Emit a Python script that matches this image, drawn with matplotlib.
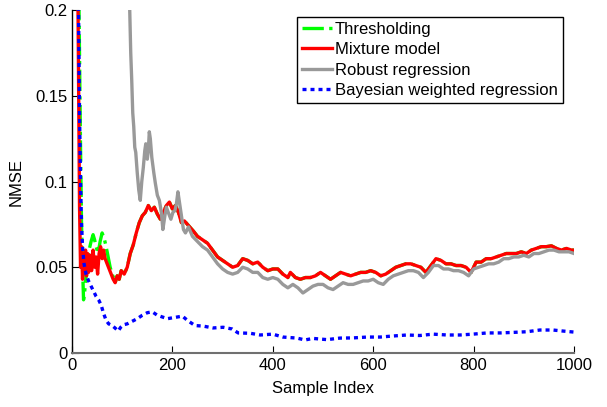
import matplotlib
matplotlib.use("Agg")
import matplotlib.pyplot as plt
from matplotlib.ticker import FixedLocator, FixedFormatter

plt.rcParams['font.family'] = ['Liberation Sans', 'DejaVu Sans']

# ---- data ----
red_x = [10, 12, 14, 15, 17, 19, 21, 23, 25, 27, 29, 31, 33, 36, 39, 42, 45, 48, 51, 54, 57, 60, 63, 66,
         70, 74, 78, 82, 86, 90, 94, 98, 104, 110, 116, 122, 128, 134, 140, 146, 152, 158, 164, 170,
         176, 182, 188, 194, 200, 206, 212, 218, 224, 230, 236, 242, 250, 260, 270, 280, 290, 300,
         310, 320, 330, 340, 350, 360, 370, 380, 390, 400, 410, 420, 430, 435, 445, 455, 465, 475,
         485, 495, 505, 515, 525, 535, 545, 555, 565, 575, 585, 595, 605, 615, 625, 635, 645, 655,
         665, 675, 685, 695, 705, 715, 725, 735, 745, 755, 765, 775, 785, 795, 805, 815, 825, 835,
         845, 855, 865, 875, 885, 895, 905, 915, 925, 935, 945, 955, 965, 975, 985, 995, 1000]
red_y = [0.25, 0.20, 0.12, 0.085, 0.050, 0.062, 0.043, 0.058, 0.047, 0.060, 0.045, 0.058, 0.047, 0.057,
         0.048, 0.060, 0.050, 0.056, 0.046, 0.058, 0.062, 0.055, 0.060, 0.055, 0.052, 0.049, 0.046,
         0.043, 0.041, 0.045, 0.043, 0.048, 0.046, 0.050, 0.058, 0.063, 0.070, 0.076, 0.080, 0.082,
         0.086, 0.083, 0.085, 0.081, 0.078, 0.082, 0.086, 0.088, 0.084, 0.086, 0.082, 0.076, 0.077,
         0.075, 0.073, 0.071, 0.068, 0.066, 0.064, 0.060, 0.056, 0.054, 0.052, 0.050, 0.051, 0.055,
         0.054, 0.052, 0.053, 0.050, 0.048, 0.049, 0.049, 0.046, 0.044, 0.047, 0.044, 0.043, 0.044,
         0.044, 0.045, 0.047, 0.045, 0.043, 0.045, 0.047, 0.046, 0.045, 0.046, 0.047, 0.047, 0.048,
         0.047, 0.045, 0.046, 0.048, 0.050, 0.051, 0.052, 0.052, 0.051, 0.050, 0.047, 0.051, 0.055,
         0.054, 0.052, 0.052, 0.051, 0.051, 0.050, 0.047, 0.053, 0.053, 0.055, 0.055, 0.056, 0.057,
         0.058, 0.058, 0.058, 0.059, 0.058, 0.060, 0.061, 0.062, 0.062, 0.0625, 0.061, 0.060, 0.061,
         0.060, 0.060]

green_early_x = [10, 14, 17, 19, 21, 23, 25, 28, 31, 34, 38, 42, 45, 48, 52, 56, 60, 64, 68, 72, 76, 80, 84]
green_early_y = [0.25, 0.20, 0.12, 0.075, 0.050, 0.031, 0.035, 0.045, 0.055, 0.060, 0.065, 0.069,
                 0.066, 0.062, 0.058, 0.065, 0.070, 0.067, 0.062, 0.056, 0.050, 0.046, 0.043]

gray_x = [115, 117, 119, 121, 123, 125, 127, 130, 133, 136, 139, 142, 145, 147, 150, 152, 154, 156,
          159, 163, 166, 170, 174, 178, 181, 185, 188, 193, 197, 201, 205, 208, 211, 214, 218, 222,
          226, 232, 240, 250, 260, 270, 280, 290, 300, 310, 320, 330, 340, 350, 360, 370, 380, 390,
          400, 410, 420, 430, 440, 450, 460, 470, 480, 490, 500, 510, 520, 530, 540, 550, 560, 570,
          580, 590, 600, 610, 620, 630, 640, 650, 660, 670, 680, 690, 700, 710, 720, 730, 740, 750,
          760, 770, 780, 790, 800, 810, 820, 830, 840, 850, 860, 870, 880, 890, 900, 910, 920, 930,
          940, 950, 960, 970, 980, 990, 1000]
gray_y = [0.20, 0.175, 0.159, 0.140, 0.132, 0.120, 0.117, 0.105, 0.095, 0.089, 0.100, 0.108, 0.118,
          0.122, 0.113, 0.118, 0.129, 0.125, 0.114, 0.105, 0.099, 0.092, 0.089, 0.082, 0.072, 0.080,
          0.085, 0.081, 0.078, 0.082, 0.083, 0.087, 0.094, 0.088, 0.080, 0.072, 0.070, 0.0735, 0.068,
          0.065, 0.062, 0.060, 0.056, 0.052, 0.049, 0.047, 0.046, 0.047, 0.050, 0.049, 0.047, 0.047,
          0.044, 0.043, 0.044, 0.043, 0.040, 0.038, 0.040, 0.038, 0.035, 0.037, 0.039, 0.040, 0.040,
          0.038, 0.037, 0.039, 0.041, 0.040, 0.040, 0.041, 0.042, 0.042, 0.043, 0.041, 0.040, 0.043,
          0.045, 0.046, 0.047, 0.048, 0.048, 0.047, 0.044, 0.047, 0.051, 0.051, 0.049, 0.049, 0.048,
          0.048, 0.047, 0.045, 0.049, 0.050, 0.051, 0.052, 0.052, 0.053, 0.055, 0.055, 0.056, 0.056,
          0.057, 0.056, 0.058, 0.058, 0.059, 0.060, 0.060, 0.059, 0.059, 0.059, 0.058]

blue_x = [10, 13, 15, 17, 19, 21, 24, 28, 33, 38, 43, 48, 53, 58, 63, 68, 73, 80, 86, 92, 97, 103, 110,
          120, 130, 140, 150, 160, 170, 180, 190, 200, 210, 220, 230, 245, 261, 281, 301, 319, 331,
          355, 375, 400, 420, 448, 464, 480, 508, 534, 560, 588, 614, 639, 667, 693, 719, 747, 773,
          799, 827, 853, 878, 906, 932, 958, 978, 1000]
blue_y = [0.25, 0.20, 0.14, 0.10, 0.075, 0.062, 0.052, 0.046, 0.042, 0.039, 0.036, 0.033, 0.031, 0.028,
          0.023, 0.019, 0.017, 0.016, 0.0145, 0.0128, 0.015, 0.0165, 0.017, 0.0185, 0.020, 0.022,
          0.0235, 0.024, 0.022, 0.021, 0.020, 0.0205, 0.021, 0.0215, 0.019, 0.016, 0.0157, 0.0146,
          0.015, 0.014, 0.0117, 0.0115, 0.0105, 0.011, 0.0093, 0.0087, 0.0076, 0.0085, 0.0078, 0.0087,
          0.0088, 0.0093, 0.0093, 0.0099, 0.0105, 0.0102, 0.011, 0.0105, 0.0105, 0.011, 0.0117,
          0.0117, 0.012, 0.0124, 0.0134, 0.0134, 0.0128, 0.0122]

series_labels = ["Thresholding", "Mixture model", "Robust regression", "Bayesian weighted regression"]
x_ticks = [0, 200, 400, 600, 800, 1000]
x_tick_labels = ["0", "200", "400", "600", "800", "1000"]
y_ticks = [0, 0.05, 0.1, 0.15, 0.2]
y_tick_labels = ["0", "0.05", "0.1", "0.15", "0.2"]

# green follows red after its early part
green_x = green_early_x + [v for v in red_x if v > green_early_x[-1]]
green_y = green_early_y + [y for v, y in zip(red_x, red_y) if v > green_early_x[-1]]

fig = plt.figure(figsize=(6.07, 4.07), dpi=100)
ax = fig.add_axes([72 / 607, 54 / 407, 502 / 607, 343 / 407])

lw = 2.4
l1, = ax.plot(green_x, green_y, color=(0, 1, 0), linestyle='-.', lw=lw, label=series_labels[0])
l2, = ax.plot(red_x, red_y, color=(1, 0, 0), linestyle='-', lw=lw, label=series_labels[1])
l3, = ax.plot(gray_x, gray_y, color=(0.6, 0.6, 0.6), linestyle='-', lw=lw, label=series_labels[2])
l4, = ax.plot(blue_x, blue_y, color=(0, 0, 1), linestyle=(0, (1.2, 1.2)), lw=lw, label=series_labels[3])

ax.set_xlim(0, 1000)
ax.set_ylim(0, 0.2)
ax.xaxis.set_major_locator(FixedLocator(x_ticks))
ax.xaxis.set_major_formatter(FixedFormatter(x_tick_labels))
ax.yaxis.set_major_locator(FixedLocator(y_ticks))
ax.yaxis.set_major_formatter(FixedFormatter(y_tick_labels))
ax.tick_params(direction='in', length=5, labelsize=12, width=0.8)
ax.spines['top'].set_visible(False)
ax.spines['right'].set_visible(False)
ax.spines['left'].set_linewidth(1.0)
ax.spines['bottom'].set_color('#707070')
ax.spines['bottom'].set_linewidth(1.5)

ax.set_xlabel("Sample Index", fontsize=12, labelpad=6)
ax.set_ylabel("NMSE", fontsize=12, labelpad=8)

leg = ax.legend(handles=[l1, l2, l3, l4], loc='upper right', bbox_to_anchor=(0.978, 0.98),
                borderaxespad=0, fontsize=12, frameon=True, fancybox=False, framealpha=1,
                edgecolor='black', handlelength=1.8, handletextpad=0.2, labelspacing=0.32,
                borderpad=0.3)
leg.get_frame().set_linewidth(1.0)

fig.savefig("out.png", dpi=100)
